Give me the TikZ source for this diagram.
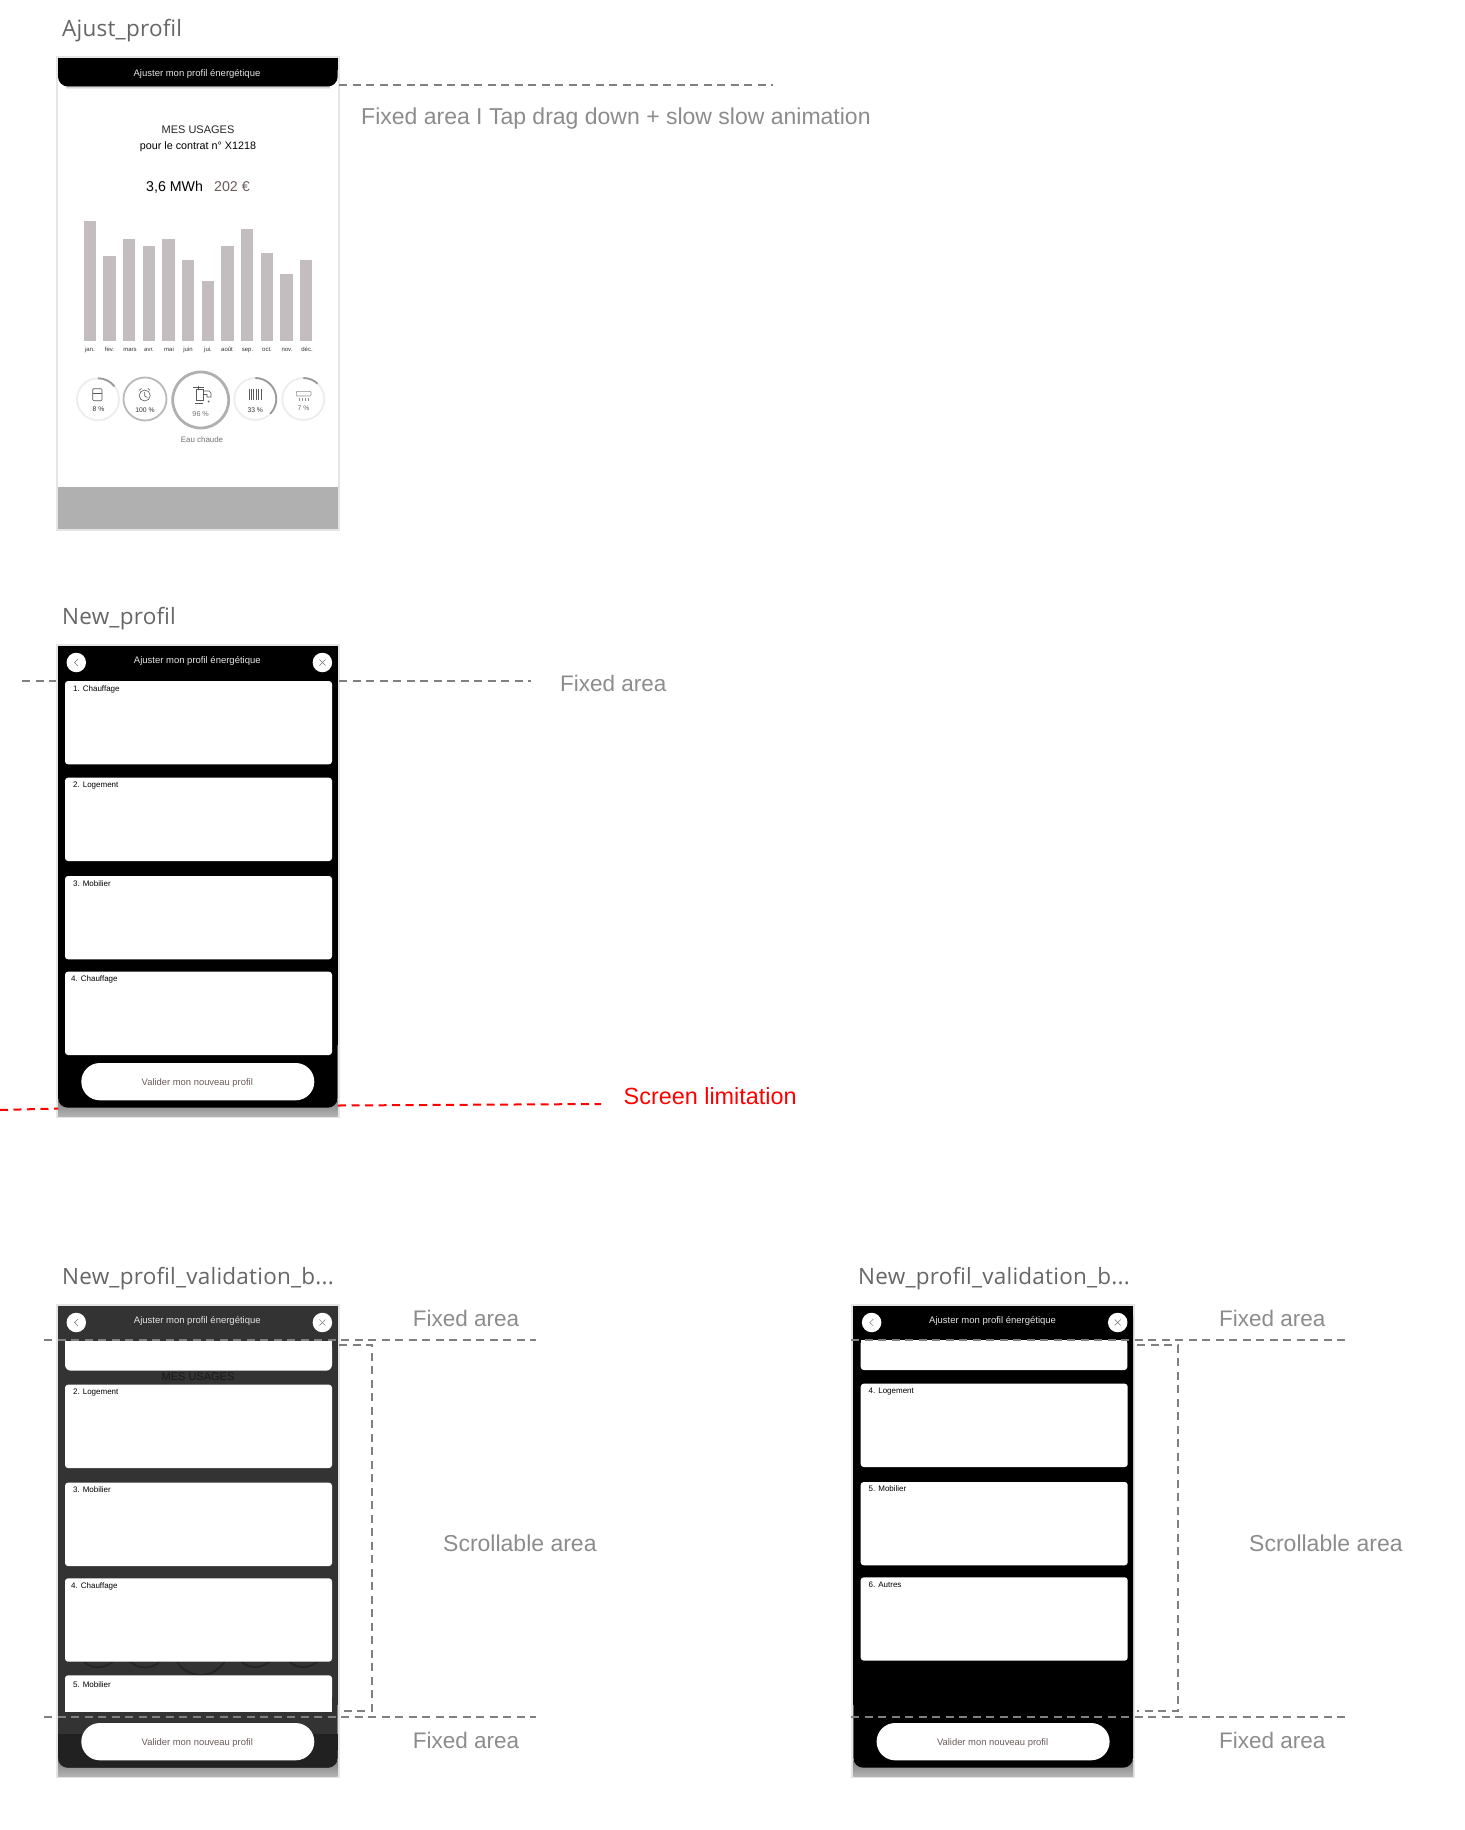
\documentclass[tikz,border=0pt]{standalone}
\usepackage{fontspec}
\setmainfont{Liberation Sans}
\newfontfamily\headfont[LetterSpace=1]{Open Sans}
\definecolor{barcol}{HTML}{C4BDBF}
\definecolor{wine}{HTML}{6B5A5A}
\definecolor{ringcol}{HTML}{EFEDE9}
\begin{document}
\begin{tikzpicture}[x=1pt, y=-1pt,
	screen/.style={
		rectangle, anchor=north west, inner sep=0, outer sep=0,
		minimum width=281.7pt, minimum height=472pt,
		line width=2pt, draw=black!10, fill=white},
	card/.style={
		rectangle, anchor=north west, inner sep=0, outer sep=0,
		minimum width=267pt, minimum height=83.3pt,
		rounded corners=3pt, fill=white},
	cardtext/.style={anchor=base west, inner sep=0, font=\fontsize{8}{9}\selectfont},
	toptext/.style={anchor=base, inner sep=0, text=black!90, font=\fontsize{9.5}{10}\selectfont},
	toptextw/.style={toptext, text=black!10},
	cta/.style={
		rectangle, anchor=north west, inner sep=0, outer sep=0,
		minimum width=233pt, minimum height=37.3pt,
		rounded corners=18.6pt, fill=white},
	ctatext/.style={anchor=base, inner sep=0, text=wine, font=\fontsize{9.4}{10}\selectfont},
	roundbtn/.style={circle, inner sep=0, outer sep=0, minimum size=19.5pt, fill=white},
	btnmark/.style={line width=0.5pt, draw=black!55},
	heading/.style={anchor=base west, inner sep=0, text=black!60, font=\headfont\fontsize{22.5}{24}\selectfont},
	legend/.style={anchor=base west, inner sep=0, text=black!45, font=\fontsize{23}{26}\selectfont},
	fixedlegend/.style={legend, font=\fontsize{22.5}{26}\selectfont},
	guide/.style={draw=black!50, line width=2pt, dash pattern=on 8pt off 5.5pt},
	limit/.style={draw=red, line width=2pt, dash pattern=on 8pt off 5.5pt},
	ring/.style={circle, inner sep=0, outer sep=0, line width=1.8pt, draw=ringcol},
	ringarc/.style={line width=1.8pt, draw=black!40},
	ringtext/.style={anchor=base, inner sep=0, text=black!80, font=\fontsize{6.8}{8}\selectfont},
	icon/.style={line width=0.6pt, draw=black!65}]
	\useasboundingbox (0,0) rectangle (1464,1830);

	\node[screen] (ajust) at (57,57.5) {};
	\shade[top color=black!25, bottom color=white] (66,86) rectangle (330,89);
	\fill[black, rounded corners=10pt] (58,58.5) rectangle (337.7,86.5);
	\fill[black] (58,58.5) rectangle (337.7,70);
	\fill[black!31] (58,486.7) rectangle (337.7,529);
	\node[toptextw] (ajusttitle) at (197,76.8) {Ajuster mon profil énergétique};
	\node[anchor=base, inner sep=0, text=black!85, font=\fontsize{11}{12}\selectfont] (usages) at (198,133.2) {MES USAGES};
	\node[anchor=base, inner sep=0, font=\fontsize{10.75}{12}\selectfont] (contrat) at (198,150) {pour le contrat n° X1218};
	\node[anchor=base west, inner sep=0, font=\fontsize{14.2}{16}\selectfont] (mwh) at (146,192) {3,6 MWh};
	\node[anchor=base west, inner sep=0, text=wine, font=\fontsize{14.2}{16}\selectfont] (euros) at (214,192) {202 €};

	\foreach \dy/\col in {0/barcol,1247/black!86} {
		\foreach \top [count=\i from 0] in {221,256,238.7,246,238.7,260,280.7,246,229,253,274,260} {
			\fill[\col] ({83.7+19.67*\i},{\top+\dy}) rectangle ++(12.3,{340.7-\top});
		}
	}
	\foreach \mx/\mname [count=\i] in {90/jan.,109.5/fev.,130/mars,149/avr.,169/mai,188/juin,208/jui.,227/août,247.5/sep.,267/oct.,287/nov.,307/déc.} {
		\node[anchor=base, inner sep=0, text=black!80, font=\fontsize{6}{7}\selectfont] (month\i) at (\mx,351.5) {\mname};
	}

	\node[ring, minimum size=42pt] (fridge) at (98,399.3) {};
	\node[ring, minimum size=43pt, draw=black!27] (clock) at (145,399) {};
	\node[ring, minimum size=56pt, line width=2.8pt, draw=black!31] (tap) at (200.7,400) {};
	\node[ring, minimum size=42pt] (radiator) at (255.3,399) {};
	\node[ring, minimum size=42pt] (clim) at (303.3,399) {};
	\draw[ringarc] (fridge.north) arc[start angle=90, end angle=38, radius=21pt];
	\draw[ringarc] (radiator.north) arc[start angle=90, end angle=-45, radius=21pt];
	\draw[ringarc] (clim.north) arc[start angle=90, end angle=47, radius=21pt];
	\node[ringtext] (fridgetext) at (98.5,411) {8 \%};
	\node[ringtext] (clocktext) at (145,412.5) {100 \%};
	\node[ringtext, text=black!55, font=\fontsize{7.2}{8}\selectfont] (taptext) at (200.7,416) {96 \%};
	\node[ringtext] (radiatortext) at (255.3,412.5) {33 \%};
	\node[ringtext, text=black!60] (climtext) at (303.5,410) {7 \%};
	\node[anchor=base, inner sep=0, text=black!55, font=\fontsize{7.9}{9}\selectfont] (eau) at (202,442.5) {Eau chaude};

	\draw[icon, rounded corners=1pt] (92.7,388.7) rectangle (102,400.7);
	\draw[icon] (92.7,393.5) -- (102,393.5);
	\draw[icon] (144.7,395.5) circle[radius=5.5pt];
	\draw[icon] (144.7,391.8) -- (144.7,396) -- (147.5,397.5);
	\draw[icon] (139.3,390.3) -- (141.5,388.4) (150.1,390.3) -- (147.9,388.4);
	\draw[icon] (196,389.3) rectangle (203.3,400);
	\draw[icon] (203.3,391) -- (209,391) -- (211,393) -- (211,397) -- (207,397) -- (207,394.5) -- (203.3,394.5);
	\draw[icon] (193,387) -- (204,387) (198.5,385.5) -- (198.5,389.3) (195,403.5) -- (203,403.5);
	\fill[black!65] (208.5,401.5) circle[radius=1pt];
	\foreach \rx in {249,251.4,253.8,256.2,258.6,261} {
		\draw[icon, line width=1pt] (\rx,388.5) -- (\rx,399.5);
	}
	\draw[icon, draw=black!45, rounded corners=1pt] (296.3,391.3) rectangle (311,396);
	\foreach \dx in {299,302,305,308} {
		\draw[icon, draw=black!45, line width=0.4pt] (\dx,398) -- (\dx,400.5);
	}

	\foreach \n/\fx/\fy/\col in {newa/57/645/black,newb/57/1305/black!80,newc/852.3/1305/black} {
		\node[screen] (\n) at (\fx,\fy) {};
		\shade[top color=black!50, bottom color=black!30] ({\fx+1},{\fy+455}) rectangle ({\fx+280.7},{\fy+471});
		\fill[\col, rounded corners=10pt] ({\fx+1},{\fy+1}) rectangle ({\fx+280.7},{\fy+462.7});
		\fill[\col] ({\fx+1},{\fy+1}) rectangle ({\fx+280.7},{\fy+400});
	}

	\foreach \rx/\rs/\ry/\rc in {98/42/1646.3/ghosta,145/43/1646/ghostb,200.7/56/1647/ghostc,255.3/42/1646/ghostd,303.3/42/1646/ghoste} {
		\node[ring, minimum size=\rs pt, draw=black!86] (\rc) at (\rx,\ry) {};
	}
	\node[anchor=base, inner sep=0, text=black!90, font=\fontsize{11}{12}\selectfont] (ghostusages) at (198,1380) {MES USAGES};

	\foreach \top/\txt/\ty/\tx [count=\i] in {681/1. Chauffage/691/73,777.7/2. Logement/787.5/73,876/3. Mobilier/886/73,971.7/4. Chauffage/981/71} {
		\node[card] (carda\i) at (65,\top) {};
		\node[cardtext] (labela\i) at (\tx,\ty) {\txt};
	}

	\fill[white, rounded corners=6pt] (65,1341) rectangle (332,1370.7);
	\fill[white] (65,1341) rectangle (332,1355);
	\foreach \top/\txt/\ty/\tx [count=\i] in {1384.7/2. Logement/1394.5/73,1482.7/3. Mobilier/1492.5/73,1578.3/4. Chauffage/1588/71} {
		\node[card] (cardb\i) at (65,\top) {};
		\node[cardtext] (labelb\i) at (\tx,\ty) {\txt};
	}
	\fill[white, rounded corners=3pt] (65,1675.3) rectangle (332,1700);
	\fill[white] (65,1685) rectangle (332,1712.3);
	\node[cardtext] (labelb4) at (73,1687.5) {5. Mobilier};
	\fill[black!87, rounded corners=10pt] (58,1734) rectangle (337.7,1767.7);
	\fill[black!87] (58,1734) rectangle (337.7,1750);

	\fill[white, rounded corners=3pt] (860.7,1340) rectangle (1127.3,1370);
	\fill[white] (860.7,1340) rectangle (1127.3,1355);
	\foreach \top/\txt/\ty [count=\i] in {1383.7/4. Logement/1393,1482/5. Mobilier/1491.5,1577.3/6. Autres/1587} {
		\node[card] (cardc\i) at (860.7,\top) {};
		\node[cardtext] (labelc\i) at (868.5,\ty) {\txt};
	}

	\foreach \n/\fx/\fy in {newa/57/645,newb/57/1305,newc/852.3/1305} {
		\node[toptextw] (\n title) at ({\fx+140.3},{\fy+18.3}) {Ajuster mon profil énergétique};
		\node[roundbtn] (\n back) at ({\fx+19.3},{\fy+17.5}) {};
		\node[roundbtn] (\n close) at ({\fx+265.4},{\fy+17.5}) {};
		\draw[btnmark] ([xshift=1.8pt,yshift=3.5pt]\n back.center) -- ([xshift=-1.8pt]\n back.center) -- ([xshift=1.8pt,yshift=-3.5pt]\n back.center);
		\draw[btnmark] ([xshift=-3pt,yshift=3pt]\n close.center) -- ([xshift=3pt,yshift=-3pt]\n close.center);
		\draw[btnmark] ([xshift=-3pt,yshift=-3pt]\n close.center) -- ([xshift=3pt,yshift=3pt]\n close.center);
		\node[cta] (\n cta) at ({\fx+24.3},{\fy+418}) {};
		\node[ctatext] (\n ctatext) at ({\fx+140.3},{\fy+440}) {Valider mon nouveau profil};
	}

	\node[heading] (headajust) at (62,37) {Ajust\_profil};
	\node[heading] (headnew) at (62,624.5) {New\_profil};
	\node[heading] (headvala) at (62,1284.5) {New\_profil\_validation\_b...};
	\node[heading] (headvalb) at (858,1284.5) {New\_profil\_validation\_b...};

	\coordinate (tapa) at (339,85.5);
	\coordinate (tapb) at (773,85.5);
	\draw[guide] (tapa) -- (tapb);
	\node[legend] (taplegend) at (361,125) {Fixed area I Tap drag down + slow slow animation};

	\coordinate (fixa) at (22,681);
	\coordinate (fixb) at (56,681);
	\coordinate (fixc) at (339,681);
	\coordinate (fixd) at (531,681);
	\draw[guide] (fixa) -- (fixb);
	\draw[guide] (fixc) -- (fixd);
	\node[fixedlegend] (fixlegend) at (560,691) {Fixed area};

	\coordinate (lima) at (0,1110);
	\coordinate (limb) at (58,1108.5);
	\coordinate (limc) at (338,1105.5);
	\coordinate (limd) at (601,1104);
	\draw[limit] (lima) -- (limb);
	\draw[limit] (limc) -- (limd);
	\node[legend, text=red, font=\fontsize{23.4}{26}\selectfont] (limlegend) at (623.5,1104.5) {Screen limitation};

	\foreach \n/\ax/\bx/\cx/\dx/\ex/\lx/\sx in {a/44/536/339/371.7/339/412.7/443,b/851/1345/1137/1178/1137/1219/1249} {
		\coordinate (ua\n) at (\ax,1339.7);
		\coordinate (ub\n) at (\bx,1339.7);
		\coordinate (la\n) at (\ax,1717);
		\coordinate (lb\n) at (\bx,1717);
		\coordinate (ra\n) at (\cx,1345);
		\coordinate (rb\n) at (\dx,1345);
		\coordinate (rc\n) at (\dx,1710.7);
		\coordinate (rd\n) at (\ex,1710.7);
		\draw[guide] (ua\n) -- (ub\n);
		\draw[guide] (la\n) -- (lb\n);
		\draw[guide, line width=1.8pt] (ra\n) -- (rb\n) -- (rc\n) -- (rd\n);
		\node[fixedlegend] (fixu\n) at (\lx,1326.5) {Fixed area};
		\node[fixedlegend] (fixl\n) at (\lx,1748) {Fixed area};
		\node[legend] (scroll\n) at (\sx,1551) {Scrollable area};
	}
\end{tikzpicture}
\end{document}
